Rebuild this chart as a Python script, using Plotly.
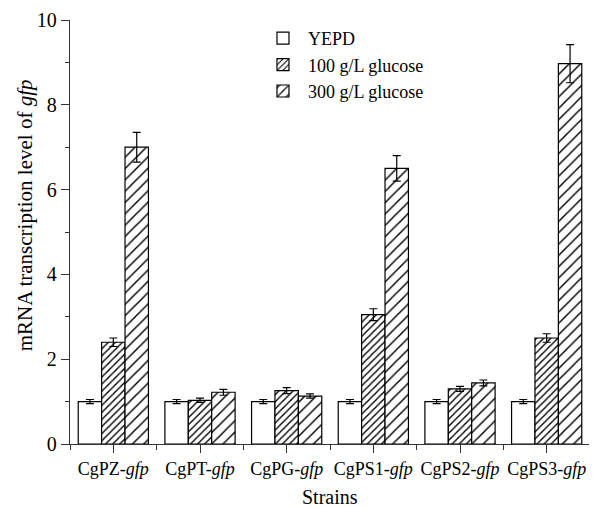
import plotly.graph_objects as go

categories = ["CgPZ", "CgPT", "CgPG", "CgPS1", "CgPS2", "CgPS3"]
series_names = ["YEPD", "100 g/L glucose", "300 g/L glucose"]
yepd = [1.0, 1.0, 1.0, 1.0, 1.0, 1.0]
yepd_err = [0.05, 0.05, 0.05, 0.05, 0.05, 0.05]
g100 = [2.4, 1.03, 1.26, 3.05, 1.3, 2.5]
g100_err = [0.1, 0.05, 0.07, 0.14, 0.06, 0.1]
g300 = [7.0, 1.22, 1.13, 6.5, 1.44, 8.97]
g300_err = [0.35, 0.07, 0.05, 0.3, 0.07, 0.45]
y_ticks = [0, 2, 4, 6, 8, 10]

FONT = "Liberation Serif, Times New Roman, serif"
xpos = list(range(len(categories)))
ticktext = [f"{c}-<i>gfp</i>" for c in categories]

patterns = [
    dict(shape=""),
    dict(shape="/", size=5, solidity=0.28, fgcolor="black", bgcolor="white", fillmode="replace"),
    dict(shape="/", size=8, solidity=0.18, fgcolor="black", bgcolor="white", fillmode="replace"),
]
vals = [yepd, g100, g300]
errs = [yepd_err, g100_err, g300_err]

fig = go.Figure()
for name, v, e, p in zip(series_names, vals, errs, patterns):
    fig.add_trace(go.Bar(
        x=xpos, y=v, name=name,
        marker=dict(color="white", line=dict(color="black", width=1.2), pattern=p),
        error_y=dict(type="data", array=e, visible=True, color="black", thickness=1.2, width=4),
    ))

AX = "#333"
fig.update_layout(
    width=589, height=499,
    margin=dict(l=62, r=7, t=12, b=63, autoexpand=False),
    paper_bgcolor="white", plot_bgcolor="white",
    barmode="group", bargap=0.19, bargroupgap=0,
    font=dict(family=FONT, size=18, color="black"),
    showlegend=True,
    legend=dict(x=0.3615, y=1.0, xanchor="left", yanchor="top", bgcolor="rgba(0,0,0,0)",
                font=dict(family=FONT, size=18), itemwidth=40, tracegroupgap=0),
    xaxis=dict(
        range=[-0.5, 5.5], tickmode="array", tickvals=xpos, ticktext=ticktext,
        showline=True, linecolor=AX, linewidth=1.3, mirror=False, automargin=False,
        ticks="outside", ticklen=8, tickwidth=1.3, tickcolor=AX,
        minor=dict(tickmode="array", tickvals=[i - 0.5 for i in range(len(categories) + 1)],
                   ticks="outside", ticklen=5, tickwidth=1.3, tickcolor=AX),
        showgrid=False, zeroline=False,
        tickfont=dict(family=FONT, size=18),
    ),
    yaxis=dict(
        range=[0, 10], tickmode="array", tickvals=y_ticks, automargin=False,
        showline=True, linecolor=AX, linewidth=1.3,
        ticks="outside", ticklen=8, tickwidth=1.3, tickcolor=AX,
        minor=dict(dtick=1, ticks="outside", ticklen=4, tickwidth=1.3, tickcolor=AX, showgrid=False),
        showgrid=False, zeroline=False,
        tickfont=dict(family=FONT, size=20),
    ),
    annotations=[
        dict(text="mRNA transcription level of <i>gfp</i>", xref="paper", yref="paper",
             x=-0.086, y=0.540, xanchor="center", yanchor="middle", textangle=-90,
             showarrow=False, font=dict(family=FONT, size=21)),
        dict(text="Strains", xref="paper", yref="paper",
             x=0.5, y=-0.125, xanchor="center", yanchor="middle",
             showarrow=False, font=dict(family=FONT, size=20)),
    ],
)

fig.write_html("out.html")
